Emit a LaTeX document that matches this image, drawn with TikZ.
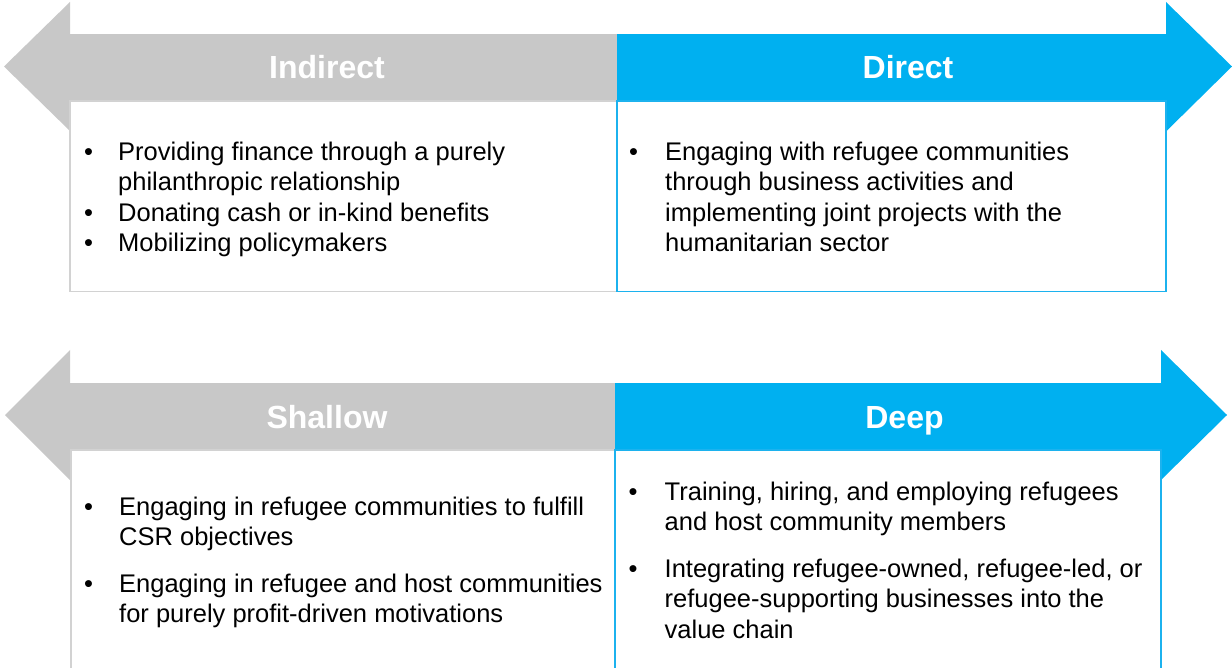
\documentclass[tikz,border=0pt]{standalone}
\usepackage{fontspec}
\setmainfont{Liberation Sans}

\definecolor{bandgray}{HTML}{C8C8C8}
\definecolor{bandblue}{HTML}{00B0F0}
\definecolor{edgegray}{HTML}{D2D2D2}
\definecolor{edgeblue}{HTML}{1CB2EE}

\tikzset{
  band/.style={minimum height=67pt, inner sep=0pt, outer sep=0pt, anchor=north west},
  grayband/.style={band, fill=bandgray},
  blueband/.style={band, fill=bandblue},
  title/.style={text=white, font=\fontsize{32}{36}\selectfont\bfseries, anchor=base, inner sep=0pt},
  panel/.style={fill=white, line width=1.5pt, inner sep=0pt, outer sep=0pt, anchor=north west},
  graypanel/.style={panel, draw=edgegray},
  bluepanel/.style={panel, draw=edgeblue},
  items/.style={anchor=base west, inner sep=0pt, font=\fontsize{25.5}{30.4}\selectfont},
}

\begin{document}
\begin{tikzpicture}[x=1pt, y=-1pt]
  \useasboundingbox (0,0) rectangle (1232,668);

  % ---- upper scale: Indirect <-> Direct ----
  \node[grayband, minimum width=547pt] (indband) at (70,34) {};
  \node[blueband, minimum width=549pt] (dirband) at (617,34) {};
  \fill[bandgray] (70,2) -- (4,66.5) -- (70,131) -- cycle;
  \fill[bandblue] (1166,2) -- (1232,66.5) -- (1166,131.5) -- cycle;

  \node[graypanel, minimum width=547pt, minimum height=190.5pt] (indpanel) at (70,101) {};
  \node[bluepanel, minimum width=549pt, minimum height=190.5pt] (dirpanel) at (617,101) {};

  \node[title] (indtitle) at (327,79) {Indirect};
  \node[title] (dirtitle) at (908,79) {Direct};

  \node[items] (indtext) at (84,160.5) {%
    \begin{tabular}[t]{@{}p{34pt}@{}l@{}}
      \textbullet & Providing finance through a purely\\
                  & philanthropic relationship\\
      \textbullet & Donating cash or in-kind benefits\\
      \textbullet & Mobilizing policymakers
    \end{tabular}};
  \node[items] (dirtext) at (629,160.5) {%
    \begin{tabular}[t]{@{}p{36pt}@{}l@{}}
      \textbullet & Engaging with refugee communities\\
                  & through business activities and\\
                  & implementing joint projects with the\\
                  & humanitarian sector
    \end{tabular}};

  % ---- lower scale: Shallow <-> Deep ----
  \node[grayband, minimum width=545pt] (shaband) at (70,383) {};
  \node[blueband, minimum width=546pt] (deepband) at (615,383) {};
  \fill[bandgray] (70,350) -- (5,415) -- (70,480) -- cycle;
  \fill[bandblue] (1161,350) -- (1227,415) -- (1161,480) -- cycle;

  \node[graypanel, minimum width=544pt, minimum height=240pt] (shapanel) at (71,450) {};
  \node[bluepanel, minimum width=546pt, minimum height=240pt] (deeppanel) at (615,450) {};

  \node[title] (shatitle) at (327,428) {Shallow};
  \node[title] (deeptitle) at (904.5,428) {Deep};

  \node[items] (shatext) at (84,515.5) {%
    \begin{tabular}[t]{@{}p{35pt}@{}l@{}}
      \textbullet & Engaging in refugee communities to fulfill\\
                  & CSR objectives\\[16pt]
      \textbullet & Engaging in refugee and host communities\\
                  & for purely profit-driven motivations
    \end{tabular}};
  \node[items] (deeptext) at (628.5,500.5) {%
    \begin{tabular}[t]{@{}p{36pt}@{}l@{}}
      \textbullet & Training, hiring, and employing refugees\\
                  & and host community members\\[16pt]
      \textbullet & Integrating refugee-owned, refugee-led, or\\
                  & refugee-supporting businesses into the\\
                  & value chain
    \end{tabular}};
\end{tikzpicture}
\end{document}
